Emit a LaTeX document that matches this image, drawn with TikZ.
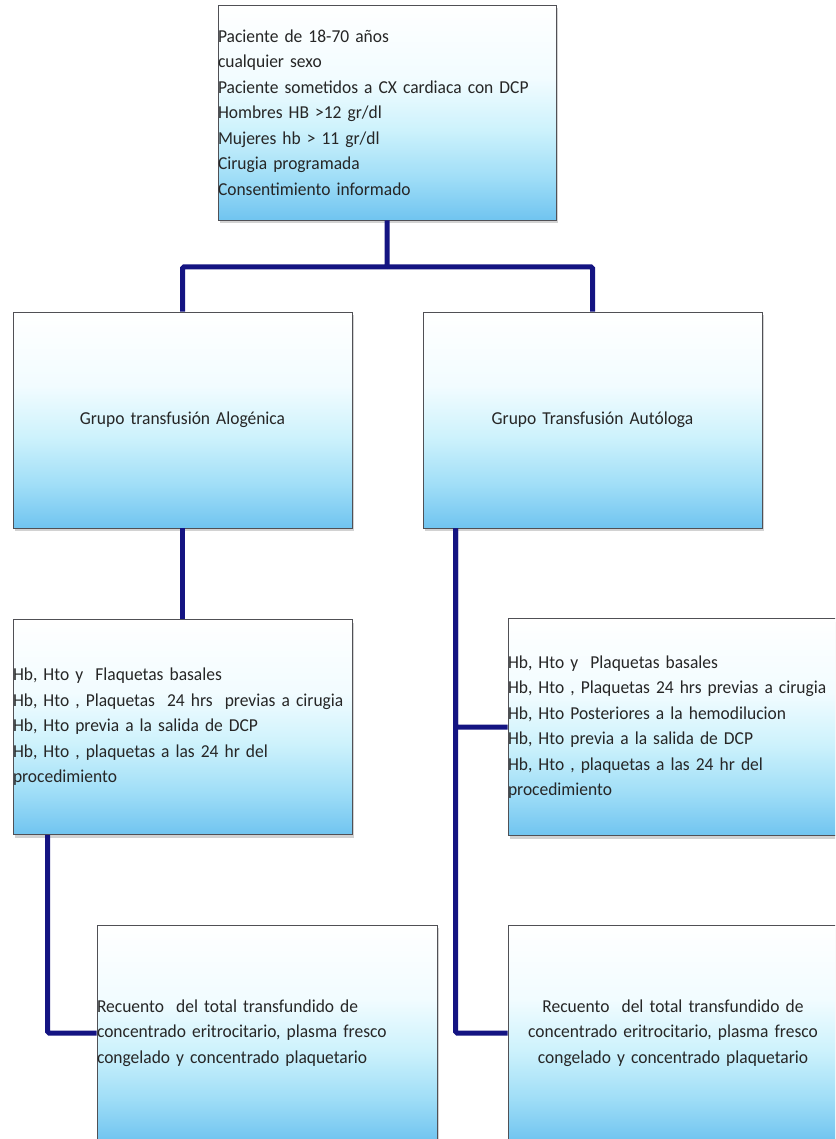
\documentclass[tikz,border=0pt]{standalone}
\usepackage{fontspec}
\setmainfont{Carlito}[FakeStretch=0.96,WordSpace=0.55]
\usetikzlibrary{shadows}
\hyphenpenalty=10000
\exhyphenpenalty=10000
\definecolor{navyline}{RGB}{20,20,130}
\definecolor{boxedge}{RGB}{80,80,85}
\definecolor{bluebot}{RGB}{112,196,240}
\definecolor{bluelow}{RGB}{160,222,247}
\definecolor{bluemid}{RGB}{205,242,252}
\definecolor{bluetop}{RGB}{242,252,255}
\pgfdeclareverticalshading{boxshade}{100bp}{color(0bp)=(bluebot); color(25bp)=(bluebot); color(35bp)=(bluelow); color(46bp)=(bluemid); color(58bp)=(bluetop); color(75bp)=(white); color(100bp)=(white)}
\tikzset{
  fbox/.style={rectangle, inner xsep=0pt, inner ysep=0pt, draw=boxedge, line width=0.9pt,
    shading=boxshade, text=black!85,
    font=\fontsize{18.2}{25.5}\selectfont,
    drop shadow={shadow xshift=1.5pt, shadow yshift=-3pt, opacity=0.35, fill=gray}},
  link/.style={draw=navyline, line width=5pt, rounded corners=1.5pt}
}
\begin{document}
\begin{tikzpicture}[x=1pt,y=-1pt]
\useasboundingbox (0,0) rectangle (835,1139);
\fill[white] (0,0) rectangle (835,1139);
\clip (0,0) rectangle (835,1139);

\node[fbox, text width=338pt, minimum height=215pt, align=left] (top) at (387,112.5)
 {Paciente de 18-70 años\\
  cualquier sexo\\
  Paciente sometidos a CX cardiaca con DCP\\
  Hombres HB >12 gr/dl\\
  Mujeres hb > 11 gr/dl\\
  Cirugia programada\\
  Consentimiento informado};

\node[fbox, text width=339pt, minimum height=216pt, align=center] (g1) at (182.5,420)
 {Grupo transfusión Alogénica};
\node[fbox, text width=339pt, minimum height=216pt, align=center] (g2) at (592.5,420)
 {Grupo Transfusión Autóloga};

\node[fbox, text width=339pt, minimum height=215pt, align=left] (l1) at (182.5,727)
 {Hb, Hto y~ Flaquetas basales\\
  Hb, Hto , Plaquetas~ 24 hrs~ previas a cirugia\\
  Hb, Hto previa a la salida de DCP\\
  Hb, Hto , plaquetas a las 24 hr del\\
  procedimiento};
\node[fbox, text width=345pt, minimum height=217pt, align=left] (l2) at (680.5,727)
 {Hb, Hto y~ Plaquetas basales\\
  Hb, Hto , Plaquetas 24 hrs previas a cirugia\\
  Hb, Hto Posteriores a la hemodilucion\\
  Hb, Hto previa a la salida de DCP\\
  Hb, Hto , plaquetas a las 24 hr del\\
  procedimiento};

\node[fbox, text width=340pt, minimum height=216pt, align=left] (b1) at (267,1033)
 {Recuento~ del total transfundido de\\
  concentrado eritrocitario, plasma fresco\\
  congelado y concentrado plaquetario};
\node[fbox, text width=330pt, minimum height=216pt, align=center] (b2) at (673,1033)
 {Recuento~ del total transfundido de\\
  concentrado eritrocitario, plasma fresco\\
  congelado y concentrado plaquetario};

\coordinate (j) at (387,267);
\draw[link] (top.south) -- (j) -| (g1.north);
\draw[link] (j) -| (g2.north);
\draw[link] (g1.south) -- (l1.north);
\draw[link] ([xshift=33pt]g2.south west) |- (l2.west);
\draw[link] ([xshift=33pt]g2.south west) |- (b2.west);
\draw[link] ([xshift=35pt]l1.south west) |- (b1.west);
\end{tikzpicture}
\end{document}
